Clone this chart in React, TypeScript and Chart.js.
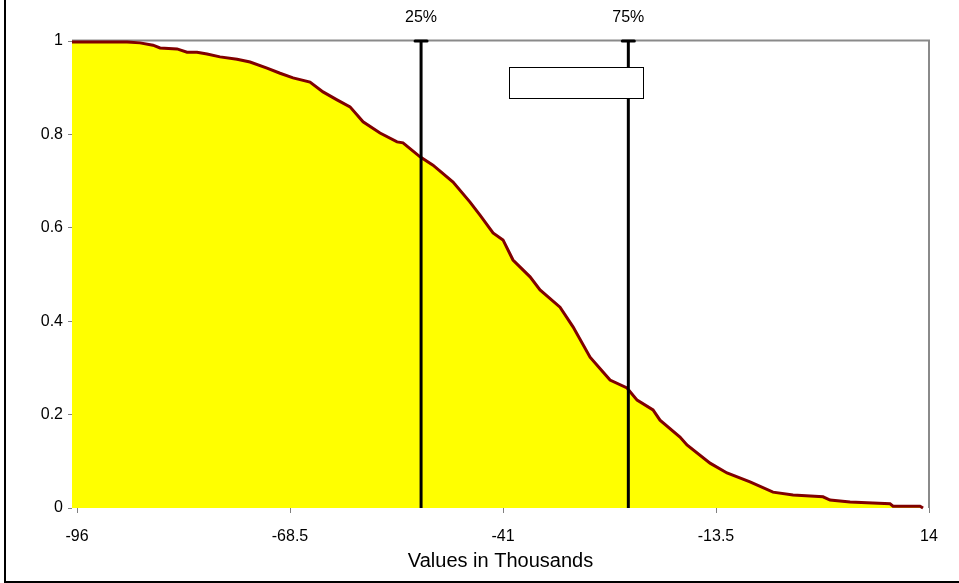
import React, { useEffect, useRef } from "react";
import { Chart, registerables } from "chart.js";

Chart.register(...registerables);

// Descending cumulative curve (values in thousands, probability)
const cdfX = [
  -96.65, -89.54, -87.87, -86.19, -85.28, -83.09, -81.8, -80.51, -79.21, -77.54,
  -75.34, -73.66, -71.47, -69.79, -68.11, -65.92, -64.24, -62.43, -60.75, -59.07,
  -56.88, -54.68, -53.91, -51.71, -50.04, -47.45, -45.26, -43.97, -42.29, -41.0,
  -39.71, -37.51, -36.22, -33.64, -31.96, -29.76, -28.09, -27.18, -24.99, -23.69,
  -21.63, -20.73, -18.15, -17.25, -14.27, -12.08, -9.11, -6.14, -3.55, 0.32,
  1.22, 3.81, 6.0, 8.97, 9.36, 12.84, 13.23,
];
const cdfY = [
  0.998, 0.998, 0.996, 0.991, 0.985, 0.983, 0.976, 0.976, 0.972, 0.966,
  0.961, 0.955, 0.942, 0.931, 0.921, 0.912, 0.891, 0.874, 0.859, 0.827,
  0.803, 0.784, 0.782, 0.752, 0.734, 0.698, 0.655, 0.627, 0.589, 0.574,
  0.531, 0.495, 0.467, 0.43, 0.388, 0.323, 0.291, 0.274, 0.257, 0.231,
  0.21, 0.188, 0.152, 0.135, 0.096, 0.075, 0.056, 0.034, 0.028, 0.024,
  0.017, 0.013, 0.011, 0.009, 0.004, 0.004, 0.0,
];

const xTicks = [-96, -68.5, -41, -13.5, 14];
const xMin = -96.65;
const xMax = 14;
const yMin = 0;
const yMax = 1;
const yStep = 0.2;

const markerLabels = ["25%", "75%"];
const markerValues = [-51.58, -24.82];

const axisTitle = "Values in Thousands";

const FONT = "'Liberation Sans', Arial, sans-serif";

const decorPlugin = {
  id: "decor",
  beforeDatasetsDraw(chart: any) {
    const { ctx, chartArea: a } = chart;
    ctx.save();
    ctx.strokeStyle = "#8a8a8a";
    ctx.lineWidth = 2;
    ctx.beginPath();
    ctx.moveTo(a.left, a.top - 0.5);
    ctx.lineTo(a.right, a.top - 0.5);
    ctx.lineTo(a.right, a.bottom);
    ctx.stroke();
    ctx.restore();
  },
  afterDatasetsDraw(chart: any) {
    const { ctx, chartArea: a, scales } = chart;
    const xs = scales.x;
    const ys = scales.y;
    ctx.save();
    markerValues.forEach((v, i) => {
      const px = xs.getPixelForValue(v);
      const py = ys.getPixelForValue(yMax);
      ctx.strokeStyle = "#000";
      ctx.lineWidth = 3;
      ctx.lineCap = "round";
      ctx.beginPath();
      ctx.moveTo(px - 6, py);
      ctx.lineTo(px + 6, py);
      ctx.stroke();
      ctx.fillStyle = "#000";
      ctx.font = `16px ${FONT}`;
      ctx.textAlign = "center";
      ctx.textBaseline = "middle";
      ctx.fillText(markerLabels[i], px, a.top - 23);
    });
    // empty legend box
    ctx.fillStyle = "#fff";
    ctx.strokeStyle = "#000";
    ctx.lineWidth = 1;
    ctx.fillRect(509.5, 67.5, 134, 31);
    ctx.strokeRect(509.5, 67.5, 134, 31);
    // outer frame (left and bottom edges)
    ctx.lineWidth = 2;
    ctx.lineCap = "butt";
    ctx.beginPath();
    ctx.moveTo(5, 0);
    ctx.lineTo(5, 582);
    ctx.lineTo(chart.width, 582);
    ctx.stroke();
    ctx.restore();
  },
};

export default function App() {
  const ref = useRef<HTMLCanvasElement | null>(null);

  useEffect(() => {
    document.body.style.margin = "0";
    const canvas = ref.current;
    if (!canvas) return;

    const curve = cdfX.map((x, i) => ({ x, y: cdfY[i] }));
    const markerSets = markerValues.map((v) => ({
      type: "line" as const,
      data: [
        { x: v, y: yMin },
        { x: v, y: yMax },
      ],
      borderColor: "#000000",
      borderWidth: 3,
      pointRadius: 0,
      fill: false,
      order: 0,
    }));

    const chart = new Chart(canvas, {
      type: "line",
      data: {
        datasets: [
          {
            data: curve,
            borderColor: "#800000",
            borderWidth: 3,
            backgroundColor: "#FFFF00",
            fill: "origin",
            pointRadius: 0,
            tension: 0,
            order: 1,
            clip: false as any,
          },
          ...markerSets,
        ] as any,
      },
      options: {
        responsive: false,
        animation: false,
        events: [],
        layout: { padding: { top: 41, right: 30, left: 0, bottom: 0 } },
        plugins: {
          legend: { display: false },
          tooltip: { enabled: false },
          title: { display: false },
        },
        scales: {
          x: {
            type: "linear",
            min: xMin,
            max: xMax,
            afterBuildTicks: (s: any) => {
              s.ticks = xTicks.map((v) => ({ value: v }));
            },
            afterFit: (s: any) => {
              s.height = 75;
            },
            ticks: {
              autoSkip: false,
              maxRotation: 0,
              minRotation: 0,
              color: "#000",
              font: { family: FONT, size: 16 },
              padding: 14,
              callback: (v: any) => String(v),
            },
            grid: {
              drawOnChartArea: false,
              drawTicks: true,
              tickLength: 5,
              color: "#808080",
            },
            border: { display: false },
            title: {
              display: true,
              text: axisTitle,
              color: "#000",
              font: { family: FONT, size: 20 },
              padding: { top: 0, bottom: 10 },
            },
          },
          y: {
            type: "linear",
            min: yMin,
            max: yMax,
            afterFit: (s: any) => {
              s.width = 72;
            },
            ticks: {
              stepSize: yStep,
              color: "#000",
              font: { family: FONT, size: 16 },
              padding: 5,
              callback: (v: any) => String(Number(Number(v).toFixed(1))),
            },
            grid: {
              drawOnChartArea: false,
              drawTicks: true,
              tickLength: 4,
              color: "#808080",
            },
            border: { display: false },
          },
        },
      },
      plugins: [decorPlugin],
    });

    return () => chart.destroy();
  }, []);

  return (
    <div style={{ width: 959, height: 583, background: "#fff" }}>
      <canvas ref={ref} width={959} height={583} style={{ display: "block" }} />
    </div>
  );
}
